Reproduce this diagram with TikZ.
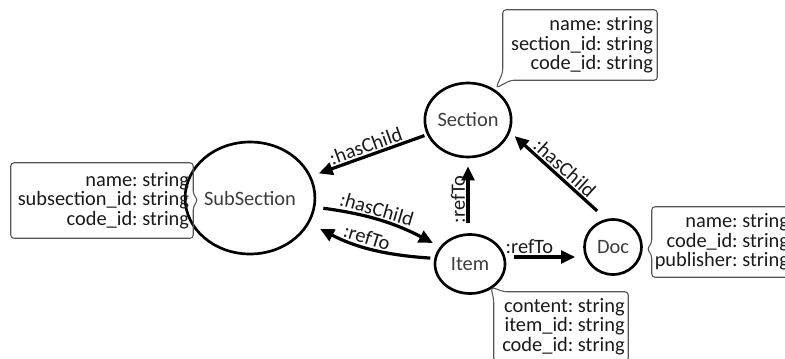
\documentclass[tikz,border=0pt]{standalone}
\usepackage{fontspec}
\setmainfont{Carlito}
\frenchspacing
\usetikzlibrary{arrows.meta,shapes.geometric,calc}
\definecolor{ink}{HTML}{1A1A1A}
\definecolor{nodetext}{HTML}{3C3C3C}
\definecolor{boxline}{HTML}{555555}
\tikzset{
  entity/.style={draw=black, line width=2pt, ellipse, inner sep=0pt, text=nodetext,
    font=\fontsize{15.3}{18}\selectfont},
  attrs/.style={text=ink, align=right, inner sep=0pt,
    font=\fontsize{15.3}{14.6}\selectfont},
  bubble/.style={draw=boxline, line width=0.8pt, rounded corners=2.5pt},
  rel/.style={line width=2.4pt, -{Triangle[length=10.5pt,width=9.5pt]}},
  relback/.style={line width=2.4pt, {Triangle[length=10.5pt,width=9.5pt]}-},
  rellabel/.style={font=\fontsize{15.3}{18}\selectfont, text=ink, inner sep=1pt, sloped, above}
}
\begin{document}
\begin{tikzpicture}[x=0.75pt, y=-0.75pt]
  \useasboundingbox (0,0) rectangle (785,358);

  % entities
  \node[entity, minimum width=61.5pt, minimum height=55.5pt] (sec) at (468,120) {Section};
  \node[entity, minimum width=82.5pt, minimum height=84pt] (sub) at (250,198) {SubSection};
  \node[entity, minimum width=52.5pt, minimum height=44.25pt] (item) at (470,264) {Item};
  \node[entity, minimum width=42.75pt, minimum height=41.25pt] (doc) at (613,247) {Doc};

  % attribute bubbles: outline box, then right-aligned text inside it
  \node[minimum width=115.5pt, minimum height=52.5pt, inner sep=0pt] (secattr) at (580,45) {};
  \node[attrs, anchor=east] (sectext) at ([xshift=-3pt]secattr.east)
    {name: string\\section\_id: string\\code\_id: string};
  \coordinate (sectip) at (496,88);
  \draw[bubble] ($(secattr.south west)+(0,-8)$) -- (secattr.north west) -- (secattr.north east)
    -- (secattr.south east) -- ($(secattr.south west)+(8,0)$) -- (sectip) -- cycle;

  \node[minimum width=136.5pt, minimum height=56.25pt, inner sep=0pt] (subattr) at (102,200.5) {};
  \node[attrs, anchor=east] (subtext) at ([xshift=-3pt]subattr.east)
    {name: string\\subsection\_id: string\\code\_id: string};
  \coordinate (subtip) at (198,200);
  \draw[bubble] (subattr.north west) -- (subattr.north east) -- ($(subattr.east)+(0,-6)$)
    -- (subtip) -- ($(subattr.east)+(0,6)$) -- (subattr.south east) -- (subattr.south west) -- cycle;

  \node[minimum width=105.75pt, minimum height=52.5pt, inner sep=0pt] (docattr) at (722.5,242) {};
  \node[attrs, anchor=east] (doctext) at ([xshift=-3pt]docattr.east)
    {name: string\\code\_id: string\\publisher: string};
  \coordinate (doctip) at (647,249);
  \draw[bubble] (docattr.north west) -- (docattr.north east) -- (docattr.south east)
    -- (docattr.south west) -- ($(docattr.west)+(0,13)$) -- (doctip) -- ($(docattr.west)+(0,1)$) -- cycle;

  \node[minimum width=100.5pt, minimum height=51.75pt, inner sep=0pt] (itemattr) at (561,326.5) {};
  \node[attrs, anchor=east] (itemtext) at ([xshift=-2.5pt]itemattr.east)
    {content: string\\item\_id: string\\code\_id: string};
  \coordinate (itemtip) at (491,287);
  \draw[bubble] ($(itemattr.north west)+(10,0)$) -- (itemattr.north east) -- (itemattr.south east)
    -- (itemattr.south west) -- ($(itemattr.north west)+(0,8)$) -- (itemtip) -- cycle;

  % relations
  \draw[relback, shorten <=6pt, shorten >=2pt] (sub) -- (sec)
    node[rellabel, midway] {:hasChild};
  \draw[rel, shorten <=6pt, shorten >=6pt] (sub.-8) to[bend left=10]
    node[rellabel, pos=0.45] {:hasChild} (item.150);
  \draw[relback, shorten <=9pt, shorten >=3pt] (sub.-23) to[bend right=12]
    node[rellabel, pos=0.45] {:refTo} (item.171);
  \draw[rel, shorten <=7.5pt, shorten >=6pt] (sec.south |- item.north) -- (sec.south)
    node[rellabel, pos=0.45] {:refTo};
  \coordinate (itemout) at ([yshift=5.25pt]item.east);
  \draw[rel, shorten <=6pt, shorten >=6pt] (itemout) -- (itemout -| doc.west)
    node[rellabel, pos=0.3] {:refTo};
  \draw[relback, shorten <=4.5pt, shorten >=9pt] (sec.-16) -- (doc.104)
    node[rellabel, midway] {:hasChild};
\end{tikzpicture}
\end{document}
